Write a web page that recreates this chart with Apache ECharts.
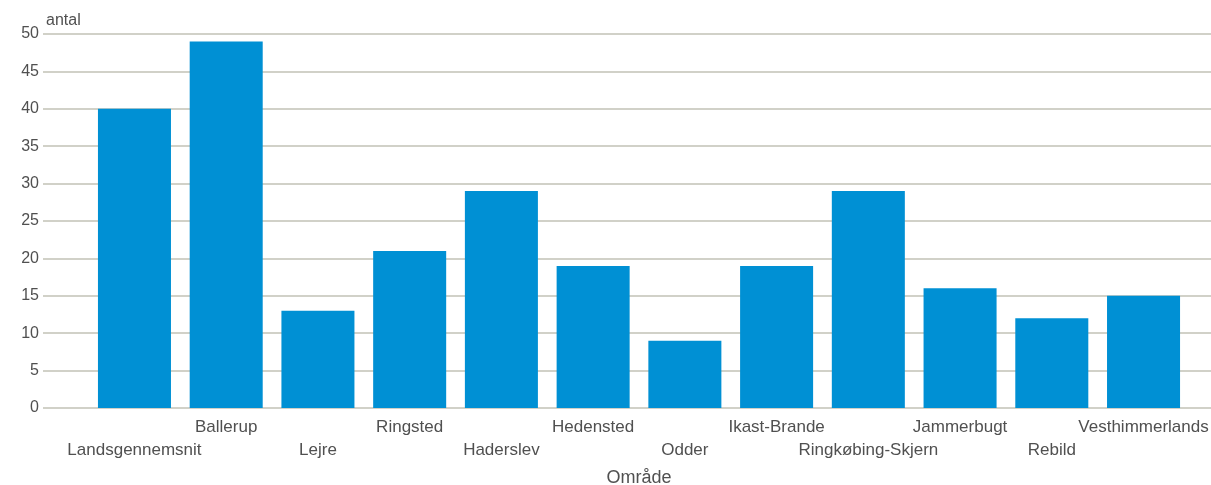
<!DOCTYPE html>
<html>
<head>
<meta charset="utf-8">
<script src="https://cdn.jsdelivr.net/npm/echarts@6/dist/echarts.min.js"></script>
<style>
html,body{margin:0;padding:0;background:#fff;}
#chart{width:1211px;height:485px;}
</style>
</head>
<body>
<div id="chart"></div>
<script>
const categories = ["Landsgennemsnit","Ballerup","Lejre","Ringsted","Haderslev","Hedensted","Odder","Ikast-Brande","Ringkøbing-Skjern","Jammerbugt","Rebild","Vesthimmerlands"];
const values = [40, 49, 13, 21, 29, 19, 9, 19, 29, 16, 12, 15];
const yTicks = [0, 5, 10, 15, 20, 25, 30, 35, 40, 45, 50];
const yAxisName = "antal";
const xAxisName = "Område";

const textColor = "#505050";
const font = "Liberation Sans, Arial, sans-serif";
const chart = echarts.init(document.getElementById('chart'), null, {renderer:'canvas'});
chart.setOption({
  animation: false,
  backgroundColor: '#ffffff',
  grid: [
    {left: 43, right: 0, top: 34, bottom: 77, outerBoundsMode: 'none', containLabel: false},
    {left: 88.6, right: 21.6, top: 34, bottom: 77, outerBoundsMode: 'none', containLabel: false}
  ],
  xAxis: [
    {gridIndex: 0, type: 'value', show: false, min: 0, max: 1},
    {gridIndex: 1, type: 'category', data: categories,
     axisLine: {show: false}, axisTick: {show: false},
     axisLabel: {interval: 0, color: textColor, fontFamily: font, fontSize: 17, lineHeight: 23, margin: 8,
       formatter: function (v, i) { return i % 2 === 0 ? '\n' + v : v; }},
     name: xAxisName, nameLocation: 'middle', nameGap: 61,
     nameTextStyle: {color: textColor, fontFamily: font, fontSize: 18}}
  ],
  yAxis: [
    {gridIndex: 0, type: 'value', min: yTicks[0], max: yTicks[yTicks.length-1], interval: 5,
     axisLine: {show: false}, axisTick: {show: false},
     axisLabel: {color: textColor, fontFamily: font, fontSize: 16, margin: 4},
     splitLine: {show: true, lineStyle: {color: '#c2c2b6', width: 1.5}},
     name: yAxisName, nameLocation: 'end', nameGap: 5,
     nameTextStyle: {color: textColor, fontFamily: font, fontSize: 16, align: 'left', padding: [0,0,0,3]}},
    {gridIndex: 1, type: 'value', min: yTicks[0], max: yTicks[yTicks.length-1], show: false}
  ],
  series: [{
    type: 'bar', xAxisIndex: 1, yAxisIndex: 1, data: values,
    barCategoryGap: '20.4%',
    itemStyle: {color: '#0090d4'}
  }]
});
</script>
</body>
</html>
